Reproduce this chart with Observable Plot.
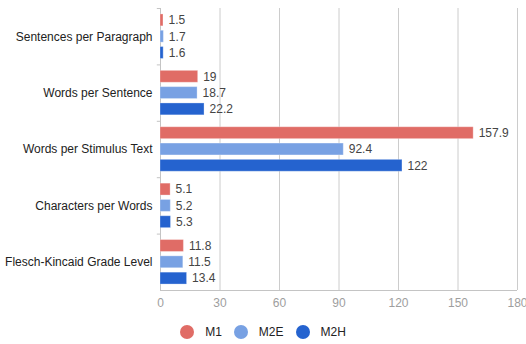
<!DOCTYPE html>
<html>
<head>
<meta charset="utf-8">
<script src="https://cdn.jsdelivr.net/npm/d3@7"></script>
<script src="https://cdn.jsdelivr.net/npm/@observablehq/plot@0.6"></script>
<style>
  html, body { margin: 0; padding: 0; background: #fff; }
  #chart { width: 526px; height: 344px; position: relative; font-family: "Liberation Sans", Arial, sans-serif; }
  #legend { position: absolute; left: 0; top: 325px; width: 526px; display: flex; justify-content: center; align-items: center; font-size: 12px; color: #222; }
  .item { display: flex; align-items: center; margin: 0 6px; }
  .sw { width: 14px; height: 14px; border-radius: 50%; margin-right: 11px; }
</style>
</head>
<body>
<div id="chart"><div id="legend"></div></div>
<script>
const categories = ["Sentences per Paragraph", "Words per Sentence", "Words per Stimulus Text", "Characters per Words", "Flesch-Kincaid Grade Level"];
const series = ["M1", "M2E", "M2H"];
const m1 = [1.5, 19, 157.9, 5.1, 11.8];
const m2e = [1.7, 18.7, 92.4, 5.2, 11.5];
const m2h = [1.6, 22.2, 122, 5.3, 13.4];
const colors = ["#e06c66", "#78a1e3", "#2563cf"];
const xTicks = [0, 30, 60, 90, 120, 150, 180];

const valuesBySeries = [m1, m2e, m2h];
const data = categories.flatMap((c, i) => series.map((s, j) => ({category: c, ci: i, series: s, value: valuesBySeries[j][i]})));

// inner band layout within each category row
const inner = d3.scaleBand(series, [0, 1]).paddingInner(0.27).paddingOuter(0.365);

const chart = Plot.plot({
  width: 526,
  height: 316,
  marginLeft: 160,
  marginRight: 9,
  marginTop: 8,
  marginBottom: 26,
  style: {fontFamily: "'Liberation Sans', Arial, sans-serif", fontSize: "12px", color: "#9e9e9e", background: "white"},
  x: {domain: [0, 180], ticks: xTicks, tickSize: 0, tickPadding: 8, label: null},
  y: {domain: [categories.length, 0], axis: null},
  color: {domain: series, range: colors},
  marks: [
    Plot.ruleX(xTicks.slice(1), {stroke: "#cccccc", strokeWidth: 1}),
    Plot.ruleX([0], {stroke: "#c4c4c4"}),
    Plot.ruleY([categories.length], {stroke: "#c4c4c4"}),
    Plot.ruleY(d3.range(0, categories.length), {x1: -1.6, x2: 0, stroke: "#c4c4c4"}),
    Plot.rectX(data, {
      x1: 0,
      x2: "value",
      y1: d => d.ci + inner(d.series),
      y2: d => d.ci + inner(d.series) + inner.bandwidth(),
      fill: "series",
      stroke: "white",
      strokeOpacity: 0.3,
      strokeWidth: 1
    }),
    Plot.text(data, {
      x: "value",
      y: d => d.ci + inner(d.series) + inner.bandwidth() / 2,
      text: d => String(d.value),
      dx: 5,
      textAnchor: "start",
      fill: "#444"
    }),
    Plot.text(categories, {
      x: 0,
      y: (d, i) => i + 0.5,
      text: d => d,
      dx: -8,
      textAnchor: "end",
      fill: "#222"
    })
  ]
});
document.getElementById("chart").insertBefore(chart, document.getElementById("legend"));

const legend = document.getElementById("legend");
series.forEach((s, i) => {
  const item = document.createElement("div");
  item.className = "item";
  const sw = document.createElement("span");
  sw.className = "sw";
  sw.style.background = colors[i];
  const t = document.createElement("span");
  t.textContent = s;
  item.appendChild(sw);
  item.appendChild(t);
  legend.appendChild(item);
});
</script>
</body>
</html>
